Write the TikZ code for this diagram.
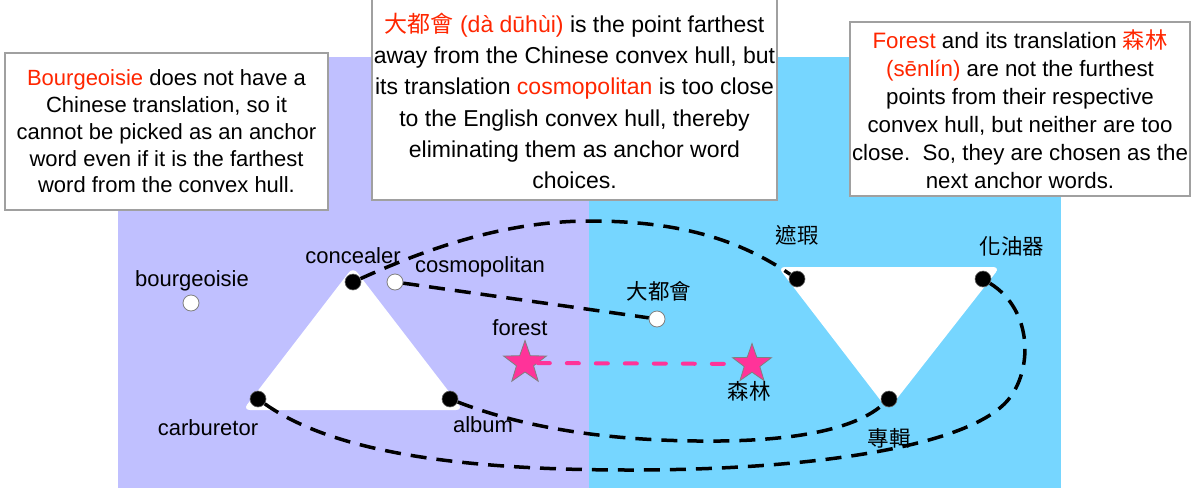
\documentclass[tikz,border=0pt]{standalone}
\usepackage{fontspec}
\setmainfont{Liberation Sans}
\newfontfamily\cjk{Noto Sans CJK TC}
\usetikzlibrary{shapes.geometric}
\definecolor{bgpurple}{RGB}{192,192,255}
\definecolor{bgblue}{RGB}{118,214,255}
\definecolor{hlred}{RGB}{255,38,0}
\definecolor{starpink}{RGB}{255,51,153}
\definecolor{boxgray}{RGB}{160,160,160}
\frenchspacing
\begin{document}
\begin{tikzpicture}[x=1pt,y=-1pt,
  hull/.style={fill=white, rounded corners=7pt},
  anchorpt/.style={circle, fill=black, draw=black!60, line width=0.6pt, minimum size=16pt, inner sep=0pt},
  otherpt/.style={circle, fill=white, draw=gray, line width=0.8pt, minimum size=16pt, inner sep=0pt},
  starpt/.style={star, star points=5, star point ratio=2.5, fill=starpink, draw=gray, line width=0.8pt, minimum size=45pt, inner sep=0pt},
  link/.style={draw=black, line width=3.5pt, dash pattern=on 16pt off 10pt},
  pinklink/.style={draw=starpink, line width=4pt, line cap=round, dash pattern=on 12pt off 17pt},
  wlabel/.style={font=\fontsize{22}{26}\selectfont, anchor=base, inner sep=0pt},
  clabel/.style={font=\cjk\fontsize{21.5}{26}\selectfont, inner sep=0pt},
  note/.style={draw=boxgray, fill=white, line width=1.2pt, align=center, inner sep=0pt},
  notetext/.style={align=center, inner sep=0pt},
]
\useasboundingbox (0,0) rectangle (1199,490);
% backgrounds
\fill[bgpurple] (118,57) rectangle (589,488);
\fill[bgblue] (589,57) rectangle (1061,488);
% hulls
\path[hull] (353,410) -- (463,410) -- (353,267) -- (243,410) -- cycle;
\path[hull] (889,267) -- (1000,267) -- (888,410) -- (778,267) -- cycle;
% points
\node[anchorpt] (concealer) at (353,282) {};
\node[anchorpt] (carburetor) at (258,399) {};
\node[anchorpt] (album) at (450,399) {};
\node[anchorpt] (zhexia) at (797,279) {};
\node[anchorpt] (huayouqi) at (983,279) {};
\node[anchorpt] (zhuanji) at (889,399) {};
\node[otherpt] (bourgeoisie) at (191,303) {};
\node[otherpt] (cosmopolitan) at (395,282) {};
\node[otherpt] (dadouhui) at (657,319) {};
\node[starpt] (forest) at (525,363) {};
\node[starpt, minimum size=41pt] (senlin) at (752,364) {};
% connectors
\draw[link] (concealer) .. controls (420,252) and (500,221) .. (590,221)
  .. controls (680,221) and (740,240) .. (zhexia);
\draw[link] (cosmopolitan) -- (dadouhui);
\draw[link] (album) .. controls (530,430) and (620,442) .. (720,441)
  .. controls (810,440) and (860,425) .. (zhuanji);
\draw[link] (carburetor) .. controls (330,450) and (450,470) .. (630,470)
  .. controls (820,470) and (970,445) .. (1008,400)
  .. controls (1033,370) and (1033,310) .. (huayouqi);
\draw[pinklink] (forest) -- (senlin);
% labels
\node[wlabel] (lconcealer) at (353,263) {concealer};
\node[wlabel] (lbourgeoisie) at (192,286) {bourgeoisie};
\node[wlabel] (lcosmopolitan) at (480,272) {cosmopolitan};
\node[wlabel] (lcarburetor) at (208,435) {carburetor};
\node[wlabel] (lalbum) at (483,432) {album};
\node[wlabel] (lforest) at (520,335) {forest};
\node[clabel] (ldadouhui) at (659,291) {大都會};
\node[clabel] (lsenlin) at (749,391) {森林};
\node[clabel] (lzhexia) at (797,235) {遮瑕};
\node[clabel] (lhuayouqi) at (1012,246) {化油器};
\node[clabel] (lzhuanji) at (889,438) {專輯};
% notes
\node[note, minimum width=323pt, minimum height=157pt, font={\fontsize{22}{26.7}\selectfont}] (note1) at (166.5,131.5)
  {{\color{hlred}Bourgeoisie} does not have a\\ Chinese translation, so it\\ cannot be picked as an anchor\\ word even if it is the farthest\\ word from the convex hull.};
\node[note, minimum width=405pt, minimum height=205pt] (note2box) at (574.5,97.5) {};
\node[notetext, font={\fontsize{23}{31.2}\selectfont}] (note2) at (574.5,101)
  {{\color{hlred}{\cjk 大都會} (dà dūhùi)} is the point farthest\\ away from the Chinese convex hull, but\\ its translation {\color{hlred}cosmopolitan} is too close\\ to the English convex hull, thereby\\ eliminating them as anchor word\\ choices.};
\node[note, minimum width=340pt, minimum height=174pt, font={\fontsize{22.3}{28}\selectfont}] (note3) at (1020,109)
  {{\color{hlred}Forest} and its translation {\color{hlred}\cjk 森林}\\ {\color{hlred}(sēnlín)} are not the furthest\\ points from their respective\\ convex hull, but neither are too\\ close.~ So, they are chosen as the\\ next anchor words.};
\end{tikzpicture}
\end{document}
